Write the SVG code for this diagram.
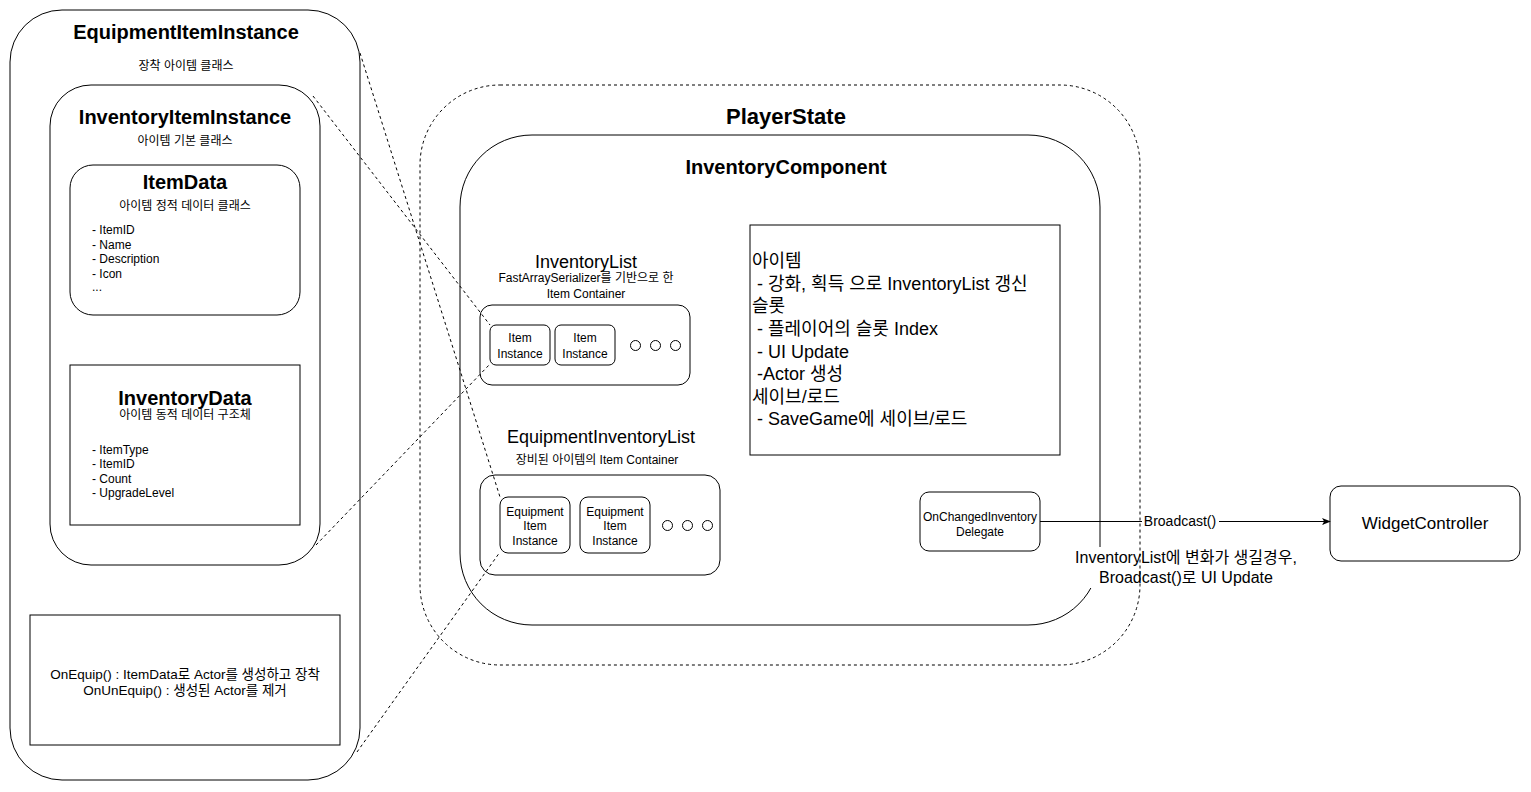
<svg xmlns="http://www.w3.org/2000/svg" width="1531" height="792" viewBox="0 0 1531 792">
<defs>
<style>
text{font-family:'Liberation Sans',Arial,'Noto Sans CJK KR',sans-serif;fill:#000;}
.c{text-anchor:middle;dominant-baseline:central;}
.l{text-anchor:start;dominant-baseline:central;}
.b20{font-size:20px;font-weight:bold;}
.s12{font-size:12px;}
.box{fill:#fff;stroke:#000;stroke-width:1;}
.nf{fill:none;stroke:#000;stroke-width:1;}
.dash{fill:none;stroke:#000;stroke-width:1;stroke-dasharray:3 3;}
</style>
<marker id="arr" viewBox="0 0 10 10" refX="9" refY="5" markerWidth="9" markerHeight="9" markerUnits="userSpaceOnUse" orient="auto">
<path d="M0,1 L10,5 L0,9 L2.5,5 Z" fill="#000"/>
</marker>
</defs>
<rect width="1531" height="792" fill="#fff"/>

<g id="EquipmentItemInstance">
<rect class="box" x="10" y="10" width="350" height="770" rx="52" ry="52"/>
<text class="c b20" x="186" y="32">EquipmentItemInstance</text>
<text class="c s12" x="186" y="66">장착 아이템 클래스</text>
</g>

<g id="InventoryItemInstance">
<rect class="box" x="50" y="85" width="270" height="480" rx="41" ry="41"/>
<text class="c b20" x="185" y="117">InventoryItemInstance</text>
<text class="c s12" x="185" y="141">아이템 기본 클래스</text>
</g>

<g id="ItemData">
<rect class="box" x="70" y="165" width="230" height="150" rx="23" ry="23"/>
<text class="c b20" x="185" y="182">ItemData</text>
<text class="c s12" x="185" y="206">아이템 정적 데이터 클래스</text>
<text class="l s12" x="92" y="230">- ItemID</text>
<text class="l s12" x="92" y="245">- Name</text>
<text class="l s12" x="92" y="259">- Description</text>
<text class="l s12" x="92" y="274">- Icon</text>
<text class="l s12" x="92" y="287">...</text>
</g>

<g id="InventoryData">
<rect class="box" x="70" y="365" width="230" height="160"/>
<text class="c b20" x="185" y="398">InventoryData</text>
<text class="c s12" x="185" y="415">아이템 동적 데이터 구조체</text>
<text class="l s12" x="92" y="450">- ItemType</text>
<text class="l s12" x="92" y="464">- ItemID</text>
<text class="l s12" x="92" y="479">- Count</text>
<text class="l s12" x="92" y="493">- UpgradeLevel</text>
</g>

<g id="EquipFunctions">
<rect class="box" x="30" y="615" width="310" height="130"/>
<text class="c" font-size="13.5" x="185" y="674">OnEquip() : ItemData로 Actor를 생성하고 장착</text>
<text class="c" font-size="13.5" x="185" y="690">OnUnEquip() : 생성된 Actor를 제거</text>
</g>

<g id="InventoryComponent">
<rect class="box" x="460" y="135" width="640" height="490" rx="72" ry="72"/>
<text class="c b20" x="786" y="167">InventoryComponent</text>
</g>

<g id="InventoryList">
<text class="c" font-size="18" x="586" y="262">InventoryList</text>
<text class="c s12" x="586" y="278">FastArraySerializer를 기반으로 한</text>
<text class="c s12" x="586" y="294">Item Container</text>
<rect class="box" x="480" y="305" width="210" height="80" rx="12" ry="12"/>
<g id="ItemInstance1">
<rect class="box" x="490" y="325" width="60" height="40" rx="6" ry="6"/>
<text class="c s12" x="520" y="338">Item</text>
<text class="c s12" x="520" y="354">Instance</text>
</g>
<g id="ItemInstance2">
<rect class="box" x="555" y="325" width="60" height="40" rx="6" ry="6"/>
<text class="c s12" x="585" y="338">Item</text>
<text class="c s12" x="585" y="354">Instance</text>
</g>
<circle class="nf" cx="635.5" cy="345.5" r="5"/>
<circle class="nf" cx="655.5" cy="345.5" r="5"/>
<circle class="nf" cx="675.5" cy="345.5" r="5"/>
</g>

<g id="EquipmentInventoryList">
<text class="c" font-size="18" x="601" y="437">EquipmentInventoryList</text>
<text class="c s12" x="597" y="460">장비된 아이템의 Item Container</text>
<rect class="box" x="480" y="475" width="240" height="100" rx="15" ry="15"/>
<g id="EquipmentItemInstance1">
<rect class="box" x="500" y="497" width="70" height="56" rx="8" ry="8"/>
<text class="c s12" x="535" y="512">Equipment</text>
<text class="c s12" x="535" y="526">Item</text>
<text class="c s12" x="535" y="541">Instance</text>
</g>
<g id="EquipmentItemInstance2">
<rect class="box" x="580" y="497" width="70" height="56" rx="8" ry="8"/>
<text class="c s12" x="615" y="512">Equipment</text>
<text class="c s12" x="615" y="526">Item</text>
<text class="c s12" x="615" y="541">Instance</text>
</g>
<circle class="nf" cx="667.5" cy="525.5" r="5"/>
<circle class="nf" cx="687.5" cy="525.5" r="5"/>
<circle class="nf" cx="707.5" cy="525.5" r="5"/>
</g>

<g id="Notes">
<rect class="box" x="750" y="225" width="310" height="230"/>
<text class="l" font-size="18" x="752" y="261">아이템</text>
<text class="l" font-size="18" x="752" y="283.5" xml:space="preserve"> - 강화, 획득 으로 InventoryList 갱신</text>
<text class="l" font-size="18" x="752" y="306">슬롯</text>
<text class="l" font-size="18" x="752" y="328.5" xml:space="preserve"> - 플레이어의 슬롯 Index</text>
<text class="l" font-size="18" x="752" y="351.5" xml:space="preserve"> - UI Update</text>
<text class="l" font-size="18" x="752" y="374" xml:space="preserve"> -Actor 생성</text>
<text class="l" font-size="18" x="752" y="396.5">세이브/로드</text>
<text class="l" font-size="18" x="752" y="419" xml:space="preserve"> - SaveGame에 세이브/로드</text>
</g>

<g id="OnChangedInventoryDelegate">
<rect class="box" x="920" y="492" width="120" height="59" rx="9" ry="9"/>
<text class="c s12" x="980" y="517">OnChangedInventory</text>
<text class="c s12" x="980" y="532">Delegate</text>
</g>

<g id="WidgetController">
<rect class="box" x="1330" y="486" width="190" height="75" rx="11" ry="11"/>
<text class="c" font-size="17" x="1425" y="523">WidgetController</text>
</g>

<g id="connectors">
<line class="nf" x1="1040" y1="521.5" x2="1330" y2="521.5" marker-end="url(#arr)"/>
<rect x="1142" y="513" width="77" height="17" fill="#fff"/>
<text class="c" font-size="14" x="1180" y="521">Broadcast()</text>
<rect x="1068" y="547" width="236" height="41" fill="#fff"/>
<text class="c" font-size="16" x="1186" y="557">InventoryList에 변화가 생길경우,</text>
<text class="c" font-size="16" x="1186" y="577">Broadcast()로 UI Update</text>
<line class="dash" x1="360" y1="53" x2="500" y2="497"/>
<line class="dash" x1="313" y1="96" x2="490" y2="325"/>
<line class="dash" x1="316" y1="545" x2="490" y2="364"/>
<line class="dash" x1="357" y1="752" x2="500" y2="552"/>
</g>

<g id="PlayerState">
<rect class="dash" x="420" y="85" width="720" height="580" rx="80" ry="80"/>
<text class="c" font-size="22" font-weight="bold" x="786" y="116">PlayerState</text>
</g>
</svg>
